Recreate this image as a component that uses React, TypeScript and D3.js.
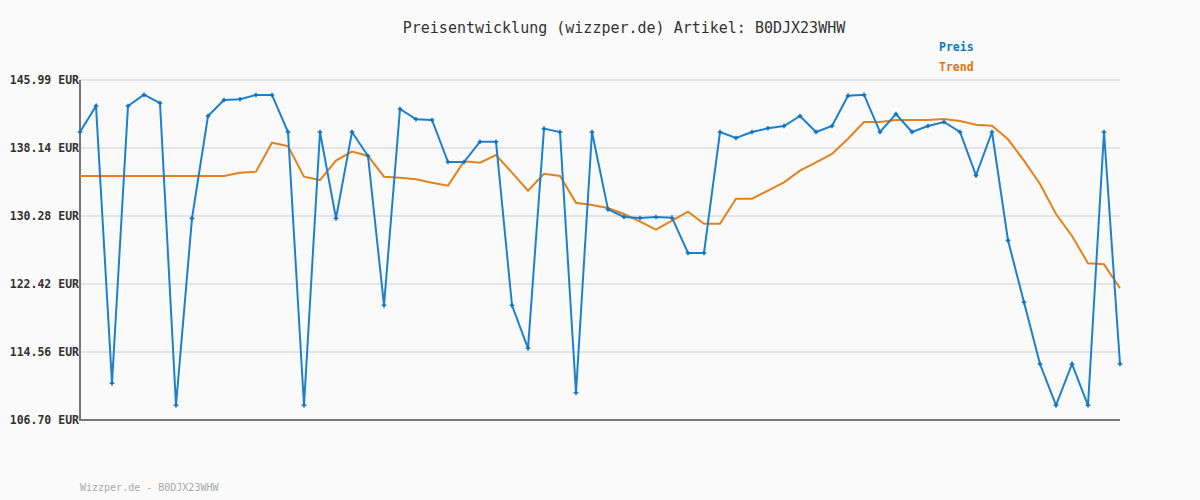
import * as d3 from "d3"
import { useRef, useEffect } from "react"

const preis = [
  139.98, 142.99, 110.94, 142.99, 144.29, 143.33, 108.4, 130.0, 141.83, 143.68,
  143.76, 144.26, 144.26, 139.98, 108.4, 139.98, 130.0, 139.98, 137.21, 119.95,
  142.64, 141.45, 141.37, 136.51, 136.51, 138.86, 138.86, 119.95, 114.98, 140.37,
  139.98, 109.85, 139.98, 131.04, 130.16, 130.04, 130.16, 130.08, 126.0, 126.0,
  139.98, 139.29, 139.98, 140.41, 140.67, 141.83, 139.98, 140.67, 144.18, 144.29,
  139.98, 142.06, 139.98, 140.67, 141.14, 139.98, 134.97, 139.98, 127.46, 120.3,
  113.17, 108.4, 113.17, 108.4, 139.98, 113.17,
]

const trend = [
  134.9, 134.9, 134.9, 134.9, 134.9, 134.9, 134.9, 134.9, 134.9, 134.9,
  135.28, 135.4, 138.75, 138.36, 134.82, 134.43, 136.67, 137.71, 137.21, 134.82,
  134.7, 134.51, 134.12, 133.78, 136.59, 136.44, 137.32, 135.28, 133.2, 135.16,
  134.9, 131.81, 131.55, 131.2, 130.5, 129.62, 128.69, 129.74, 130.77, 129.38,
  129.38, 132.28, 132.28, 133.2, 134.17, 135.51, 136.48, 137.44, 139.2, 141.14,
  141.14, 141.37, 141.37, 141.37, 141.48, 141.25, 140.83, 140.71, 139.14, 136.67,
  133.97, 130.5, 127.96, 124.81, 124.69, 121.92,
]

const yTicks = [145.99, 138.14, 130.28, 122.42, 114.56, 106.7]
const yTickLabels = ["145.99 EUR", "138.14 EUR", "130.28 EUR", "122.42 EUR", "114.56 EUR", "106.70 EUR"]

const seriesNames = ["Preis", "Trend"]
const title = "Preisentwicklung (wizzper.de) Artikel: B0DJX23WHW"
const footer = "Wizzper.de - B0DJX23WHW"

const mono = "'DejaVu Sans Mono', monospace"

export default function App() {
  const svgRef = useRef<SVGSVGElement>(null)

  useEffect(() => {
    if (!svgRef.current) return
    const width = 1200
    const height = 500
    const margin = { top: 80, right: 80, bottom: 80, left: 80 }

    const svg = d3.select(svgRef.current)
    svg.selectAll("*").remove()

    svg.append("rect").attr("width", width).attr("height", height).attr("fill", "#fafafa")

    const idx = preis.map((_, i) => i)
    const xScale = d3
      .scalePoint<number>()
      .domain(idx)
      .range([margin.left, width - margin.right])

    const yScale = d3
      .scaleLinear()
      .domain([106.7, 145.99])
      .range([height - margin.bottom, margin.top])

    // horizontal grid
    svg
      .append("g")
      .selectAll("line")
      .data(yTicks)
      .enter()
      .append("line")
      .attr("x1", margin.left)
      .attr("x2", width - margin.right)
      .attr("y1", (d) => yScale(d))
      .attr("y2", (d) => yScale(d))
      .attr("stroke", "#e4e4e4")
      .attr("stroke-width", 2)

    // y labels
    svg
      .append("g")
      .selectAll("text")
      .data(yTicks)
      .enter()
      .append("text")
      .attr("x", margin.left - 1)
      .attr("y", (d) => yScale(d) + 4)
      .attr("text-anchor", "end")
      .style("font-family", mono)
      .style("font-size", "11.5px")
      .style("font-weight", "bold")
      .style("fill", "#333")
      .text((_, i) => yTickLabels[i])

    // axes
    svg
      .append("path")
      .attr(
        "d",
        `M${margin.left},${margin.top}V${height - margin.bottom}H${width - margin.right}`
      )
      .attr("fill", "none")
      .attr("stroke", "#777")
      .attr("stroke-width", 2)

    const line = d3
      .line<number>()
      .x((_, i) => xScale(i) || 0)
      .y((d) => yScale(d))

    svg
      .append("path")
      .datum(trend)
      .attr("fill", "none")
      .attr("stroke", "#e3821a")
      .attr("stroke-width", 2)
      .attr("d", line)

    svg
      .append("path")
      .datum(preis)
      .attr("fill", "none")
      .attr("stroke", "#1b80cf")
      .attr("stroke-width", 2)
      .attr("d", line)

    const marker = d3.symbol().type(d3.symbolCross).size(12)
    svg
      .append("g")
      .selectAll("path")
      .data(preis)
      .enter()
      .append("path")
      .attr("transform", (d, i) => `translate(${xScale(i)},${yScale(d)})`)
      .attr("d", marker)
      .attr("fill", "#0a74c4")

    // title
    svg
      .append("text")
      .attr("x", 624)
      .attr("y", 33)
      .attr("text-anchor", "middle")
      .style("font-family", mono)
      .style("font-size", "15px")
      .style("fill", "#333")
      .text(title)

    // legend
    const legendColors = ["#0a78c8", "#e07800"]
    svg
      .append("g")
      .selectAll("text")
      .data(seriesNames)
      .enter()
      .append("text")
      .attr("x", 939)
      .attr("y", (_, i) => 51 + i * 20)
      .style("font-family", mono)
      .style("font-size", "11.5px")
      .style("font-weight", "bold")
      .style("fill", (_, i) => legendColors[i])
      .text((d) => d)

    // footer
    svg
      .append("text")
      .attr("x", 80)
      .attr("y", 491)
      .style("font-family", mono)
      .style("font-size", "10px")
      .style("fill", "#aaa")
      .text(footer)
  }, [])

  return (
    <div style={{ position: "absolute", left: 0, top: 0 }}>
      <svg ref={svgRef} width={1200} height={500} style={{ display: "block" }}></svg>
    </div>
  )
}
